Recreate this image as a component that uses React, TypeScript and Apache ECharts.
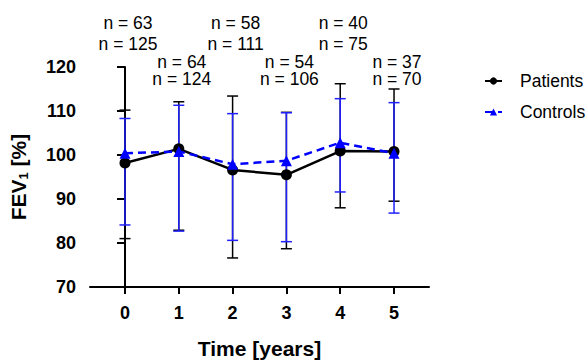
import React, { useEffect, useRef } from "react";
import * as echarts from "echarts";

const years = [0, 1, 2, 3, 4, 5];
const patientsMean = [98.2, 101.4, 96.6, 95.5, 100.9, 100.8];
const patientsLow = [81.0, 82.9, 76.6, 78.7, 88.0, 89.5];
const patientsHigh = [110.2, 112.1, 113.4, 109.7, 116.2, 115.0];
const controlsMean = [100.4, 100.8, 97.9, 98.7, 102.8, 100.4];
const controlsLow = [84.1, 82.7, 80.6, 80.3, 91.6, 86.8];
const controlsHigh = [108.3, 111.3, 109.4, 109.6, 112.8, 111.9];
const nPatients = [63, 64, 58, 54, 40, 37];
const nControls = [125, 124, 111, 106, 75, 70];
const yTicks = [70, 80, 90, 100, 110, 120];

const FONT = "'Liberation Sans', Arial, Helvetica, sans-serif";
const BLUE = "#0000ff";
const BLUE_ERR = "#2020ff";

function errorBars(color: string) {
  return (params: any, api: any) => {
    const x = api.value(0);
    const lo = api.coord([x, api.value(1)]);
    const hi = api.coord([x, api.value(2)]);
    const hw = 5.5;
    const style = { stroke: color, lineWidth: 1.5 };
    return {
      type: "group",
      children: [
        { type: "line", shape: { x1: lo[0], y1: lo[1], x2: hi[0], y2: hi[1] }, style },
        { type: "line", shape: { x1: lo[0] - hw, y1: lo[1], x2: lo[0] + hw, y2: lo[1] }, style },
        { type: "line", shape: { x1: hi[0] - hw, y1: hi[1], x2: hi[0] + hw, y2: hi[1] }, style },
      ],
    };
  };
}

export default function App() {
  const ref = useRef<HTMLDivElement>(null);
  useEffect(() => {
    if (!ref.current) return;
    const chart = echarts.init(ref.current, undefined, { renderer: "svg" });
    const maxY = yTicks[yTicks.length - 1];
    chart.setOption({
      animation: false,
      backgroundColor: "#ffffff",
      textStyle: { fontFamily: FONT },
      grid: { left: 88, top: 67, right: 159, bottom: 70 },
      legend: {
        orient: "vertical",
        left: 479,
        top: 67,
        itemWidth: 17,
        itemHeight: 9,
        itemGap: 13,
        textStyle: { fontFamily: FONT, fontSize: 17.5, color: "#000", padding: [0, 0, 0, 13] },
        data: ["Patients", "Controls"],
      },
      xAxis: {
        type: "value",
        min: -0.65,
        max: 5.65,
        name: "Time [years]",
        nameLocation: "middle",
        nameGap: 51,
        nameTextStyle: { fontFamily: FONT, fontSize: 21, fontWeight: "bold", color: "#000" },
        splitLine: { show: false },
        axisLine: { lineStyle: { color: "#000", width: 2 } },
        axisTick: { customValues: years, length: 7, lineStyle: { color: "#000", width: 2 } },
        axisLabel: {
          customValues: years,
          fontFamily: FONT,
          fontSize: 18,
          fontWeight: "bold",
          color: "#000",
          margin: 17,
        },
      },
      yAxis: {
        type: "value",
        min: yTicks[0],
        max: maxY,
        interval: 10,
        name: "{a|FEV}{s|1}{a| [%]}",
        nameLocation: "middle",
        nameGap: 60,
        nameRotate: 90,
        nameTextStyle: {
          rich: {
            a: { fontFamily: FONT, fontSize: 21, fontWeight: "bold", color: "#000" },
            s: {
              fontFamily: FONT,
              fontSize: 13,
              fontWeight: "bold",
              color: "#000",
              padding: [10, 0, 0, 0],
            },
          },
        },
        splitLine: { show: false },
        axisLine: { show: true, lineStyle: { color: "#000", width: 2 } },
        axisTick: { show: true, length: 8, lineStyle: { color: "#000", width: 2 } },
        axisLabel: { fontFamily: FONT, fontSize: 18, fontWeight: "bold", color: "#000", margin: 14 },
      },
      series: [
        {
          type: "custom",
          name: "patErr",
          renderItem: errorBars("#000"),
          data: years.map((t, i) => [t, patientsLow[i], patientsHigh[i]]),
          encode: { x: 0, y: [1, 2] },
          z: 1,
          silent: true,
        },
        {
          type: "custom",
          name: "ctlErr",
          renderItem: errorBars(BLUE_ERR),
          data: years.map((t, i) => [t, controlsLow[i], controlsHigh[i]]),
          encode: { x: 0, y: [1, 2] },
          z: 2,
          silent: true,
        },
        {
          type: "line",
          name: "Patients",
          data: years.map((t, i) => [t, patientsMean[i]]),
          symbol: "circle",
          symbolSize: 11,
          itemStyle: { color: "#000" },
          lineStyle: { color: "#000", width: 2.5 },
          z: 3,
        },
        {
          type: "line",
          name: "Controls",
          data: years.map((t, i) => [t, controlsMean[i]]),
          symbol: "triangle",
          symbolSize: 11,
          itemStyle: { color: BLUE },
          lineStyle: { color: BLUE, width: 2.5, type: [8, 5] },
          z: 4,
        },
        {
          type: "custom",
          name: "nLabels",
          clip: false,
          silent: true,
          renderItem: (params: any, api: any) => {
            const i = api.value(1);
            const p = api.coord([api.value(0), maxY]);
            const even = i % 2 === 0;
            return {
              type: "text",
              x: p[0] + 3,
              y: even ? p[1] - 33.5 : p[1] + 3.5,
              style: {
                text: `n = ${nPatients[i]}\nn = ${nControls[i]}`,
                fontFamily: FONT,
                fontSize: 17.5,
                lineHeight: even ? 20.5 : 16.5,
                fill: "#000",
                align: "center",
                verticalAlign: "middle",
              },
            };
          },
          data: years.map((t, i) => [t, i]),
          encode: { x: 0 },
          z: 5,
        },
      ],
    });
    return () => chart.dispose();
  }, []);
  return (
    <div
      ref={ref}
      style={{ position: "absolute", left: 0, top: 0, width: 588, height: 364 }}
    />
  );
}
